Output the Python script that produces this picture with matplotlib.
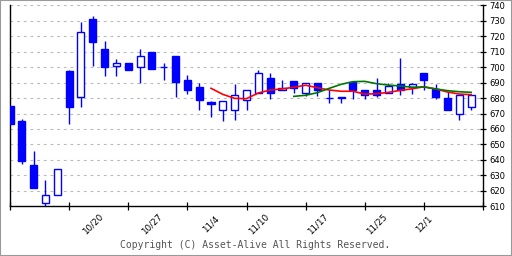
import matplotlib
matplotlib.use("Agg")
import matplotlib.pyplot as plt
from matplotlib.patches import Rectangle

# daily candles (index 0 = first trading day shown)
opens = [675, 665, 637, 612, 617.5, 697.5, 681, 731, 712, 701,
         703, 700, 710, 700, 707, 692, 687, 677.5, 672.5, 672.5,
         679, 683, 693, 685, 691, 683.5, 690, 680, 680, 690.5,
         685, 685.5, 683, 689, 687, 696, 686, 680, 670, 674]
highs = [675, 666.5, 646, 627, 634, 698, 729, 733, 717, 705,
         703, 712, 710, 703, 707, 695, 690, 678, 678, 689,
         685, 698, 696, 692, 691, 690, 690, 685, 681, 690.5,
         685, 693, 690, 706, 690, 696, 689, 684, 682, 682]
lows = [663, 637.5, 622, 610.5, 617.5, 663, 674.5, 701, 694, 694,
        698, 690, 699, 692, 681, 682.5, 672, 668, 665, 666,
        672, 683, 679.5, 685, 683.5, 681.5, 681.5, 677, 677, 679.5,
        679.5, 681, 683, 682, 682.5, 685, 679.5, 672.5, 666, 672]
closes = [663, 639.5, 622, 617, 634, 674, 723, 716, 700, 703,
          698, 707, 699, 700, 690.5, 685, 679, 676, 678, 682,
          685, 696, 683, 686.5, 686.5, 690, 685, 680, 681, 685,
          682, 682, 688, 685.5, 689, 692, 680.5, 672.5, 682, 682]

# moving averages
ma_red_x = list(range(17, 40))
ma_red = [686.3, 682.4, 679.8, 679.6, 683.3, 685.2, 685.9, 687, 688.3, 686.7,
          685.2, 684.4, 684.4, 682.6, 682.8, 683.7, 685, 686, 687.3, 685.9,
          683.9, 682.6, 682.2]
ma_green_x = list(range(24, 40))
ma_green = [681.1, 681.8, 683.5, 686.3, 688.9, 690.6, 690.8, 689.3, 688.4, 687.8,
            687, 687.2, 685.9, 684.8, 684.1, 683.7]

date_pos = [7, 12, 17, 21, 26, 31, 35]
date_labels = ['10/20', '10/27', '11/4', '11/10', '11/17', '11/25', '12/1']

blue = '#0000ff'

fig = plt.figure(figsize=(5.12, 2.56), dpi=100)
ax = fig.add_axes([10/512, 1-206.3/256, 473/512, 201/256])

for y in range(620, 741, 10):
    ax.axhline(y, color='#bbbbbb', lw=0.8, ls=(0, (2.5, 3.5)), zorder=0)

for i in range(len(opens)):
    o, h, l, c = opens[i], highs[i], lows[i], closes[i]
    ax.vlines(i, l, h, color=blue, lw=1.0, zorder=2)
    if o == c:
        ax.hlines(o, i-0.3, i+0.3, color=blue, lw=1.0, zorder=3)
    elif c > o:
        ax.bar(i, c-o, bottom=o, width=0.6, facecolor='white',
               edgecolor=blue, lw=1.0, zorder=3)
    else:
        ax.bar(i, o-c, bottom=c, width=0.6, facecolor=blue,
               edgecolor=blue, lw=1.0, zorder=3)

ax.plot(ma_red_x, ma_red, color='#ff0000', lw=1.2, zorder=4)
ax.plot(ma_green_x, ma_green, color='#007700', lw=1.2, zorder=4)

ax.set_xlim(0, 40)
ax.set_ylim(610, 740)
ax.set_xticks(range(0, 41, 5))
ax.set_xticklabels([])
ax.set_yticks(range(610, 741, 10))
ax.yaxis.tick_right()
ax.tick_params(axis='y', direction='inout', length=5, width=0.9, labelsize=6,
               pad=2)
ax.tick_params(axis='x', direction='inout', length=6, width=0.9)
ax.spines['top'].set_visible(False)
for s in ['left', 'right', 'bottom']:
    ax.spines[s].set_linewidth(1.0)

for p, lab in zip(date_pos, date_labels):
    ax.text(p, -0.09, lab, transform=ax.get_xaxis_transform(), rotation=45,
            ha='center', va='center', fontsize=6.3)

fig.text(255/512, 1-245.5/256, 'Copyright (C) Asset-Alive All Rights Reserved.',
         family='DejaVu Sans Mono', fontsize=7, color='#555555',
         ha='center', va='center')

fig.patches.append(Rectangle((0, 0), 1, 1, transform=fig.transFigure,
                             fill=False, edgecolor='#999999', lw=1.5))

fig.savefig('out.png', dpi=100)
